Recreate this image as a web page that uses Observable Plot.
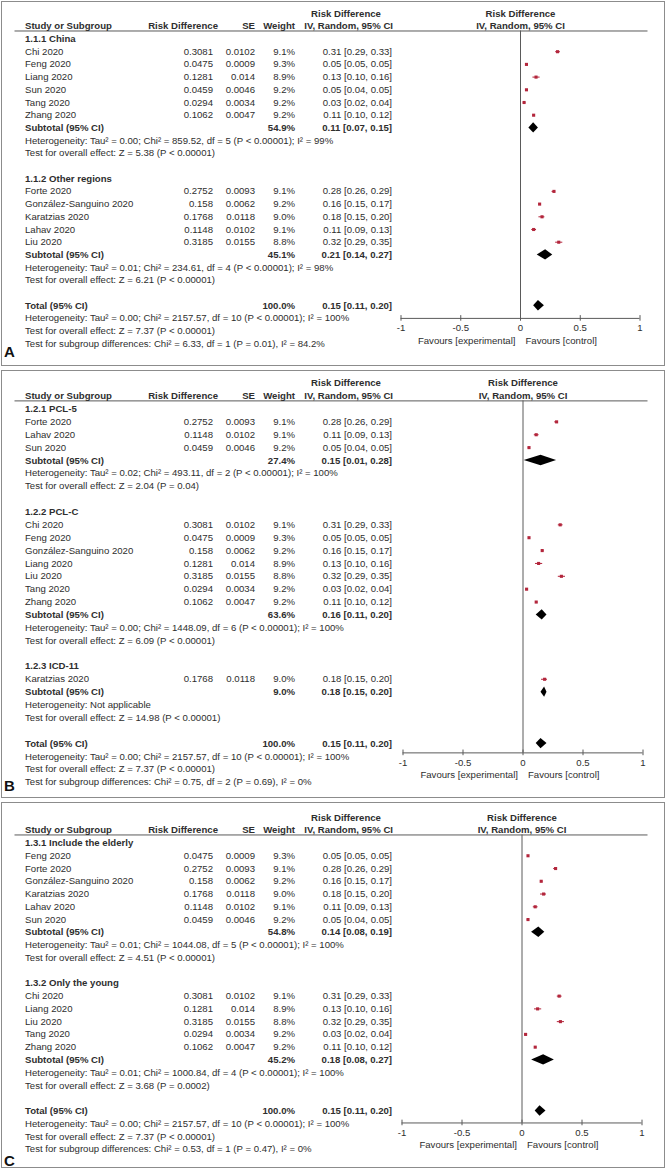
<!DOCTYPE html>
<html><head><meta charset="utf-8">
<script src="https://cdn.jsdelivr.net/npm/d3@7"></script>
<script src="https://cdn.jsdelivr.net/npm/@observablehq/plot@0.6"></script>
<style>
body{margin:0;background:#fff;}
#root{position:relative;width:666px;height:1169px;overflow:hidden;}
.panel{position:absolute;left:1px;width:664px;box-sizing:border-box;border:1.5px solid #8c8c8c;overflow:visible;}
.panel svg{position:absolute;left:0;top:0;overflow:visible;}
</style></head><body><div id="root"></div>
<script>
// ---------- data ----------
const studyNames = ["Chi 2020","Feng 2020","Liang 2020","Sun 2020","Tang 2020","Zhang 2020","Forte 2020","González-Sanguino 2020","Karatzias 2020","Lahav 2020","Liu 2020"];
const rdValues = ["0.3081","0.0475","0.1281","0.0459","0.0294","0.1062","0.2752","0.158","0.1768","0.1148","0.3185"];
const seValues = ["0.0102","0.0009","0.014","0.0046","0.0034","0.0047","0.0093","0.0062","0.0118","0.0102","0.0155"];
const weightValues = ["9.1%","9.3%","8.9%","9.2%","9.2%","9.2%","9.1%","9.2%","9.0%","9.1%","8.8%"];
const estValues = [0.31,0.05,0.13,0.05,0.03,0.11,0.28,0.16,0.18,0.11,0.32];
const ciLow = [0.29,0.05,0.10,0.04,0.02,0.10,0.26,0.15,0.15,0.09,0.29];
const ciHigh = [0.33,0.05,0.16,0.05,0.04,0.12,0.29,0.17,0.20,0.13,0.35];

const totalWeight = "100.0%";
const totalEst = 0.15, totalLow = 0.11, totalHigh = 0.20;
const totalHet = "Heterogeneity: Tau² = 0.00; Chi² = 2157.57, df = 10 (P < 0.00001); I² = 100%";
const totalTest = "Test for overall effect: Z = 7.37 (P < 0.00001)";

const tickValues = [-1,-0.5,0,0.5,1];
const tickLabels = ["-1","-0.5","0","0.5","1"];
const favourLabels = ["Favours [experimental]","Favours [control]"];
const panelLetters = ["A","B","C"];

// Panel A: region
const titlesA = ["1.1.1 China","1.1.2 Other regions"];
const membersA = [["Chi 2020","Feng 2020","Liang 2020","Sun 2020","Tang 2020","Zhang 2020"],
                  ["Forte 2020","González-Sanguino 2020","Karatzias 2020","Lahav 2020","Liu 2020"]];
const subWeightA = ["54.9%","45.1%"];
const subEstA = [0.11,0.21], subLowA = [0.07,0.14], subHighA = [0.15,0.27];
const hetA = ["Heterogeneity: Tau² = 0.00; Chi² = 859.52, df = 5 (P < 0.00001); I² = 99%",
              "Heterogeneity: Tau² = 0.01; Chi² = 234.61, df = 4 (P < 0.00001); I² = 98%"];
const testA = ["Test for overall effect: Z = 5.38 (P < 0.00001)","Test for overall effect: Z = 6.21 (P < 0.00001)"];
const subgroupTestA = "Test for subgroup differences: Chi² = 6.33, df = 1 (P = 0.01), I² = 84.2%";

// Panel B: instrument
const titlesB = ["1.2.1 PCL-5","1.2.2 PCL-C","1.2.3 ICD-11"];
const membersB = [["Forte 2020","Lahav 2020","Sun 2020"],
                  ["Chi 2020","Feng 2020","González-Sanguino 2020","Liang 2020","Liu 2020","Tang 2020","Zhang 2020"],
                  ["Karatzias 2020"]];
const subWeightB = ["27.4%","63.6%","9.0%"];
const subEstB = [0.15,0.16,0.18], subLowB = [0.01,0.11,0.15], subHighB = [0.28,0.20,0.20];
const hetB = ["Heterogeneity: Tau² = 0.02; Chi² = 493.11, df = 2 (P < 0.00001); I² = 100%",
              "Heterogeneity: Tau² = 0.00; Chi² = 1448.09, df = 6 (P < 0.00001); I² = 100%",
              "Heterogeneity: Not applicable"];
const testB = ["Test for overall effect: Z = 2.04 (P = 0.04)","Test for overall effect: Z = 6.09 (P < 0.00001)","Test for overall effect: Z = 14.98 (P < 0.00001)"];
const subgroupTestB = "Test for subgroup differences: Chi² = 0.75, df = 2 (P = 0.69), I² = 0%";

// Panel C: age
const titlesC = ["1.3.1 Include the elderly","1.3.2 Only the young"];
const membersC = [["Feng 2020","Forte 2020","González-Sanguino 2020","Karatzias 2020","Lahav 2020","Sun 2020"],
                  ["Chi 2020","Liang 2020","Liu 2020","Tang 2020","Zhang 2020"]];
const subWeightC = ["54.8%","45.2%"];
const subEstC = [0.14,0.18], subLowC = [0.08,0.08], subHighC = [0.19,0.27];
const hetC = ["Heterogeneity: Tau² = 0.01; Chi² = 1044.08, df = 5 (P < 0.00001); I² = 100%",
              "Heterogeneity: Tau² = 0.01; Chi² = 1000.84, df = 4 (P < 0.00001); I² = 100%"];
const testC = ["Test for overall effect: Z = 4.51 (P < 0.00001)","Test for overall effect: Z = 3.68 (P = 0.0002)"];
const subgroupTestC = "Test for subgroup differences: Chi² = 0.53, df = 1 (P = 0.47), I² = 0%";

// ---------- layout (page pixels) ----------
const layouts = [
  {top:1,   height:365, row0:39,  step:12.7,  xMin:401, xMax:640, axisRow:22.0,  letterY:352},
  {top:370, height:428, row0:409, step:12.87, xMin:403, xMax:643, axisRow:26.72, letterY:786},
  {top:802, height:366, row0:843, step:12.76, xMin:402, xMax:642, axisRow:21.94, letterY:1161}
];
const font = "'Liberation Sans', Arial, Helvetica, sans-serif";
const textColor = "#2e2e2e";
const pointColor = "#b3263c";
const lineColor = "#5a5a5a";

const panels = [
  {titles:titlesA, members:membersA, w:subWeightA, est:subEstA, lo:subLowA, hi:subHighA, het:hetA, test:testA, sg:subgroupTestA},
  {titles:titlesB, members:membersB, w:subWeightB, est:subEstB, lo:subLowB, hi:subHighB, het:hetB, test:testB, sg:subgroupTestB},
  {titles:titlesC, members:membersC, w:subWeightC, est:subEstC, lo:subLowC, hi:subHighC, het:hetC, test:testC, sg:subgroupTestC}
];

const ci = (e,l,h) => `${e.toFixed(2)} [${l.toFixed(2)}, ${h.toFixed(2)}]`;

function buildRows(p) {
  const rows = []; let r = 0;
  p.titles.forEach((t, g) => {
    rows.push({row:r++, kind:"title", label:t});
    p.members[g].forEach(name => {
      const i = studyNames.indexOf(name);
      rows.push({row:r++, kind:"study", label:name, rd:rdValues[i], se:seValues[i], w:weightValues[i],
                 est:estValues[i], lo:ciLow[i], hi:ciHigh[i], ci:ci(estValues[i],ciLow[i],ciHigh[i])});
    });
    rows.push({row:r++, kind:"sum", label:"Subtotal (95% CI)", w:p.w[g], est:p.est[g], lo:p.lo[g], hi:p.hi[g], ci:ci(p.est[g],p.lo[g],p.hi[g])});
    rows.push({row:r++, kind:"note", label:p.het[g]});
    rows.push({row:r++, kind:"note", label:p.test[g]});
    r++;
  });
  rows.push({row:r++, kind:"sum", label:"Total (95% CI)", w:totalWeight, est:totalEst, lo:totalLow, hi:totalHigh, ci:ci(totalEst,totalLow,totalHigh)});
  rows.push({row:r++, kind:"note", label:totalHet});
  rows.push({row:r++, kind:"note", label:totalTest});
  rows.push({row:r++, kind:"note", label:p.sg});
  return rows;
}

// column offsets from the left frame edge (page x = 15)
const COL = {study:10, rdHead:203, rd:198, se:240, w:280, ci:377, ciHead:378, topHead:331, letter:-11};

const root = document.getElementById("root");
panels.forEach((p, k) => {
  const L = layouts[k];
  const ox = 2.5, oy = L.top + 1.5;
  const W = 661, H = L.height - 3;
  const rows = buildRows(p);
  const studies = rows.filter(d => d.kind === "study");
  const sums = rows.filter(d => d.kind === "sum");
  const normalLabels = rows.filter(d => d.kind === "study" || d.kind === "note");
  const boldLabels = rows.filter(d => d.kind === "title" || d.kind === "sum");
  const hh = 5.2 / L.step;
  const diamonds = sums.flatMap(d => [
    {id:d.row, x:d.lo, y1:d.row, y2:d.row},
    {id:d.row, x:d.est, y1:d.row - hh, y2:d.row + hh},
    {id:d.row, x:d.hi, y1:d.row, y2:d.row}
  ]);
  const ruleRow = -0.63;
  const T = (data, o) => Plot.text(data, {fill:textColor, frameAnchor:"left", ...o});
  const headers1 = [{y:-2, t:"Risk Difference"}];
  const marks = [
    Plot.ruleY([ruleRow], {stroke:lineColor, strokeWidth:1}),
    Plot.ruleX([0], {y1:ruleRow, y2:L.axisRow, stroke:lineColor, strokeWidth:1}),
    // headers
    T(headers1, {y:"y", text:"t", dx:COL.topHead, textAnchor:"middle", fontWeight:"bold"}),
    Plot.text(headers1, {x:0, y:"y", text:"t", fill:textColor, fontWeight:"bold"}),
    T([{y:-1, t:"Study or Subgroup"}], {y:"y", text:"t", dx:COL.study, textAnchor:"start", fontWeight:"bold"}),
    T([{y:-1, t:"Risk Difference"}], {y:"y", text:"t", dx:COL.rdHead, textAnchor:"end", fontWeight:"bold"}),
    T([{y:-1, t:"SE"}], {y:"y", text:"t", dx:COL.se, textAnchor:"end", fontWeight:"bold"}),
    T([{y:-1, t:"Weight"}], {y:"y", text:"t", dx:COL.w, textAnchor:"end", fontWeight:"bold"}),
    T([{y:-1, t:"IV, Random, 95% CI"}], {y:"y", text:"t", dx:COL.ciHead, textAnchor:"end", fontWeight:"bold"}),
    Plot.text([{y:-1, t:"IV, Random, 95% CI"}], {x:0, y:"y", text:"t", fill:textColor, fontWeight:"bold"}),
    // table body
    T(normalLabels, {y:"row", text:"label", dx:COL.study, textAnchor:"start"}),
    T(boldLabels, {y:"row", text:"label", dx:COL.study, textAnchor:"start", fontWeight:"bold"}),
    T(studies, {y:"row", text:"rd", dx:COL.rd, textAnchor:"end"}),
    T(studies, {y:"row", text:"se", dx:COL.se, textAnchor:"end"}),
    T(studies, {y:"row", text:"w", dx:COL.w, textAnchor:"end"}),
    T(studies, {y:"row", text:"ci", dx:COL.ci, textAnchor:"end"}),
    T(sums, {y:"row", text:"w", dx:COL.w, textAnchor:"end", fontWeight:"bold"}),
    T(sums, {y:"row", text:"ci", dx:COL.ci, textAnchor:"end", fontWeight:"bold"}),
    // forest
    Plot.link(studies, {x1:"lo", x2:"hi", y1:"row", y2:"row", stroke:pointColor, strokeWidth:1}),
    Plot.dot(studies, {x:"est", y:"row", symbol:"square", r:1.75, fill:pointColor, stroke:null}),
    Plot.areaY(diamonds, {x:"x", y1:"y1", y2:"y2", z:"id", fill:"black", curve:"linear"}),
    // axis
    Plot.ruleY([L.axisRow], {x1:-1, x2:1, stroke:lineColor, strokeWidth:1}),
    Plot.ruleX(tickValues, {x:d => d, y1:L.axisRow - 0.22, y2:L.axisRow + 0.22, stroke:lineColor, strokeWidth:1}),
    Plot.text(tickValues, {x:d => d, y:L.axisRow + 0.78, text:(d, i) => tickLabels[i], fill:textColor}),
    Plot.text([favourLabels[0]], {x:0, y:L.axisRow + 1.75, text:d => d, dx:-5, textAnchor:"end", fill:textColor}),
    Plot.text([favourLabels[1]], {x:0, y:L.axisRow + 1.75, text:d => d, dx:5, textAnchor:"start", fill:textColor}),
    // panel letter
    Plot.text([panelLetters[k]], {y:(L.letterY - L.row0) / L.step, text:d => d, frameAnchor:"left", dx:COL.letter, textAnchor:"start", fontWeight:"bold", fontSize:15, fill:"#111"})
  ];
  const svg = Plot.plot({
    width:W, height:H,
    marginLeft:15 - ox, marginRight:W - (648 - ox), marginTop:0, marginBottom:0,
    x:{domain:[-1,1], range:[L.xMin - ox, L.xMax - ox], axis:null},
    y:{type:"linear", domain:[0,1], range:[L.row0 - oy, L.row0 - oy + L.step], axis:null},
    style:{fontFamily:font, fontSize:"9.6px", color:textColor, background:"transparent", overflow:"visible"},
    marks
  });
  const div = document.createElement("div");
  div.className = "panel";
  div.style.top = L.top + "px";
  div.style.height = L.height + "px";
  div.appendChild(svg);
  root.appendChild(div);
});
</script>
</body></html>
